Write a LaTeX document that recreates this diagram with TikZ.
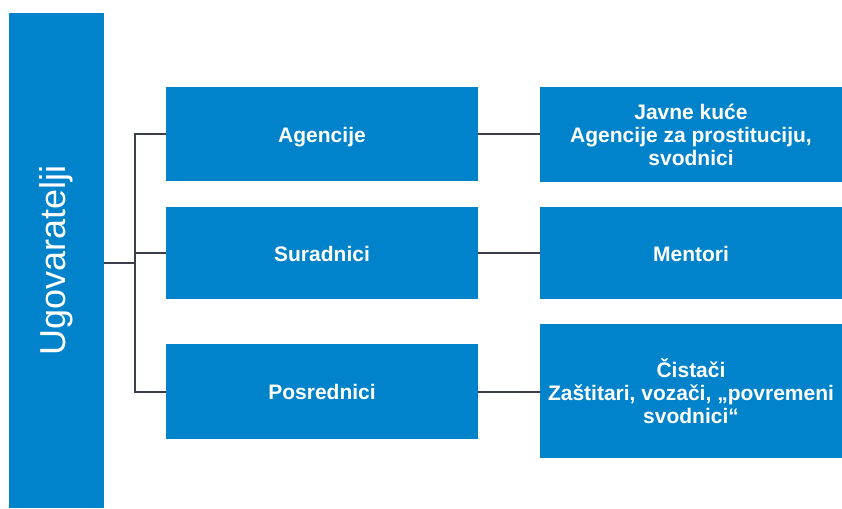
\documentclass[tikz,border=0pt]{standalone}
\usepackage{fontspec}
\setmainfont{Liberation Sans}
\definecolor{boxblue}{HTML}{0083CA}
\definecolor{linegray}{HTML}{3B3F4B}
\begin{document}
\begin{tikzpicture}[x=1pt,y=-1pt,
  box/.style={fill=boxblue, draw=none, inner sep=0pt, text=white, align=center,
    font=\fontsize{21}{23}\selectfont\bfseries},
  single/.style={text height=16pt, text depth=0pt},
  conn/.style={draw=linegray, line width=2pt}]
\useasboundingbox (0,0) rectangle (842,508);
\fill[white] (0,0) rectangle (842,508);
\node[box, minimum width=95pt, minimum height=495pt] (L) at (56.5,260.5) {};
\node[rotate=90, text=white, font=\fontsize{36}{40}\selectfont] (Lt) at (L.center) {Ugovaratelji};
\node[box, single, minimum width=312pt, minimum height=94pt] (A) at (322,134) {Agencije};
\node[box, single, minimum width=312pt, minimum height=92pt] (S) at (322,253) {Suradnici};
\node[box, single, minimum width=312pt, minimum height=95pt] (P) at (322,391.5) {Posrednici};
\node[box, minimum width=302pt, minimum height=95pt] (R1) at (691,134.5) {Javne kuće\\Agencije za prostituciju,\\svodnici};
\node[box, single, minimum width=302pt, minimum height=92pt] (R2) at (691,253) {Mentori};
\node[box, minimum width=302pt, minimum height=134pt] (R3) at (691,391) {Čistači\\Zaštitari, vozači, „povremeni\\svodnici“};
\coordinate (j) at (135,263);
\draw[conn] (L.east |- j) -- (j);
\draw[conn] (j) |- (A.west);
\draw[conn] (j) |- (S.west);
\draw[conn] (j) |- (P.west);
\draw[conn] (A.east) -- (R1.west |- A.east);
\draw[conn] (S.east) -- (R2.west);
\draw[conn] (P.east) -- (R3.west |- P.east);
\end{tikzpicture}
\end{document}
